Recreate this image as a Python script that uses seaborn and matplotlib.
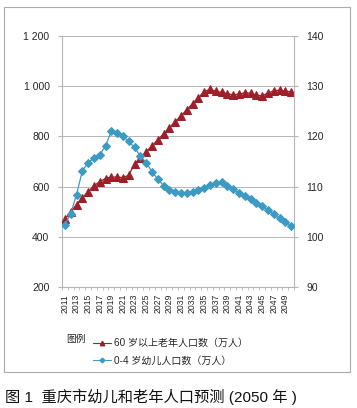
import numpy as np
import pandas as pd
import matplotlib
matplotlib.use("Agg")
import matplotlib.pyplot as plt
import seaborn as sns
from matplotlib.lines import Line2D
from matplotlib.patches import Rectangle

# data
years = list(range(2011, 2051))
elderly = [470, 500, 528, 555, 580, 603, 620, 632, 638, 638,
           636, 645, 690, 714, 738, 762, 786, 810, 834, 858,
           882, 906, 930, 954, 978, 988, 980, 975, 970, 966,
           968, 974, 972, 964, 962, 972, 982, 984, 980, 978]
children = [102.4, 104.6, 108.4, 113.1, 114.8, 115.6, 116.3, 118.1, 121.0, 120.6,
            120.0, 119.0, 117.8, 116.1, 114.8, 113.0, 111.5, 110.2, 109.3, 108.9,
            108.7, 108.8, 108.9, 109.3, 109.8, 110.3, 110.7, 111.0, 110.2, 109.5,
            108.8, 108.2, 107.6, 106.8, 106.1, 105.3, 104.5, 103.7, 103.0, 102.2]
year_ticks = list(range(2011, 2050, 2))
left_ticks = [200, 400, 600, 800, 1000, 1200]
left_labels = ["200", "400", "600", "800", "1 000", "1 200"]
right_ticks = [90, 100, 110, 120, 130, 140]

label_old = "60 岁以上老年人口数（万人）"
label_young = "0-4 岁幼儿人口数（万人）"
caption = "图 1  重庆市幼儿和老年人口预测 (2050 年 )"

df = pd.DataFrame({"year": years, "elderly": elderly, "children": children})

red = "#9e1f2a"
blue = "#3b9bc2"
grey = "#b5b5b5"

sns.set_style("white")
plt.rcParams["font.family"] = ["Liberation Sans", "Noto Sans CJK SC", "DejaVu Sans"]

fig = plt.figure(figsize=(3.57, 4.08), dpi=100)
ax = fig.add_axes([62 / 357, 1 - 287 / 408, 232 / 357, 251 / 408])
ax2 = ax.twinx()

sns.lineplot(data=df, x="year", y="elderly", ax=ax, color=red, marker="^",
             markersize=5.8, markeredgecolor=red, linewidth=0.9, zorder=3)
sns.lineplot(data=df, x="year", y="children", ax=ax2, color=blue, marker="D",
             markersize=4.3, markeredgecolor=blue, linewidth=0.9, zorder=3)

ax.set_xlim(2010.5, 2050.5)
ax.set_ylim(200, 1200)
ax2.set_ylim(90, 140)
ax.set_yticks(left_ticks)
ax.set_yticklabels(left_labels)
ax2.set_yticks(right_ticks)
ax.set_xticks(year_ticks)
ax.set_xticks(np.arange(2010.5, 2051, 1), minor=True)
ax.set_xticklabels([str(y) for y in year_ticks], rotation=90)
ax.set_xlabel("")
ax.set_ylabel("")
ax2.set_ylabel("")

ax.grid(axis="y", color=grey, linewidth=0.7)
ax.set_axisbelow(True)
for a in (ax, ax2):
    for s in a.spines.values():
        s.set_visible(False)
ax.spines["left"].set_visible(True)
ax.spines["bottom"].set_visible(True)
ax2.spines["right"].set_visible(True)
for s in (ax.spines["left"], ax.spines["bottom"], ax2.spines["right"]):
    s.set_color(grey)
    s.set_linewidth(0.8)

ax.tick_params(axis="y", labelsize=7.5, length=3, color=grey, pad=6, left=True)
ax2.tick_params(axis="y", labelsize=7.5, length=3, color=grey, pad=6, right=True)
ax.tick_params(axis="x", which="major", labelsize=6.2, length=0, pad=5, bottom=True)
ax.tick_params(axis="x", which="minor", length=2.5, color=grey, bottom=True)

# legend
fig.text(66 / 357, 1 - 339 / 408, "图例", fontsize=7, va="center", color="#222222")
handles = [Line2D([], [], color=red, marker="^", markersize=3.2, linewidth=0.8),
           Line2D([], [], color=blue, marker="D", markersize=2.4, linewidth=0.8)]
fig.legend(handles, [label_old, label_young], loc="upper left",
           bbox_to_anchor=(84 / 357, 1 - 329 / 408), frameon=False, fontsize=7.2,
           handlelength=1.8, handletextpad=0.3, labelspacing=0.75)

# outer frame
fig.patches.append(Rectangle((4 / 357, 1 - 372 / 408), 346 / 357, 365 / 408,
                             transform=fig.transFigure, fill=False,
                             edgecolor="#aaaaaa", linewidth=0.8))

fig.text(5 / 357, 1 - 397 / 408, caption, fontsize=11, va="center", color="#111111")

fig.savefig("out.png", dpi=100)
